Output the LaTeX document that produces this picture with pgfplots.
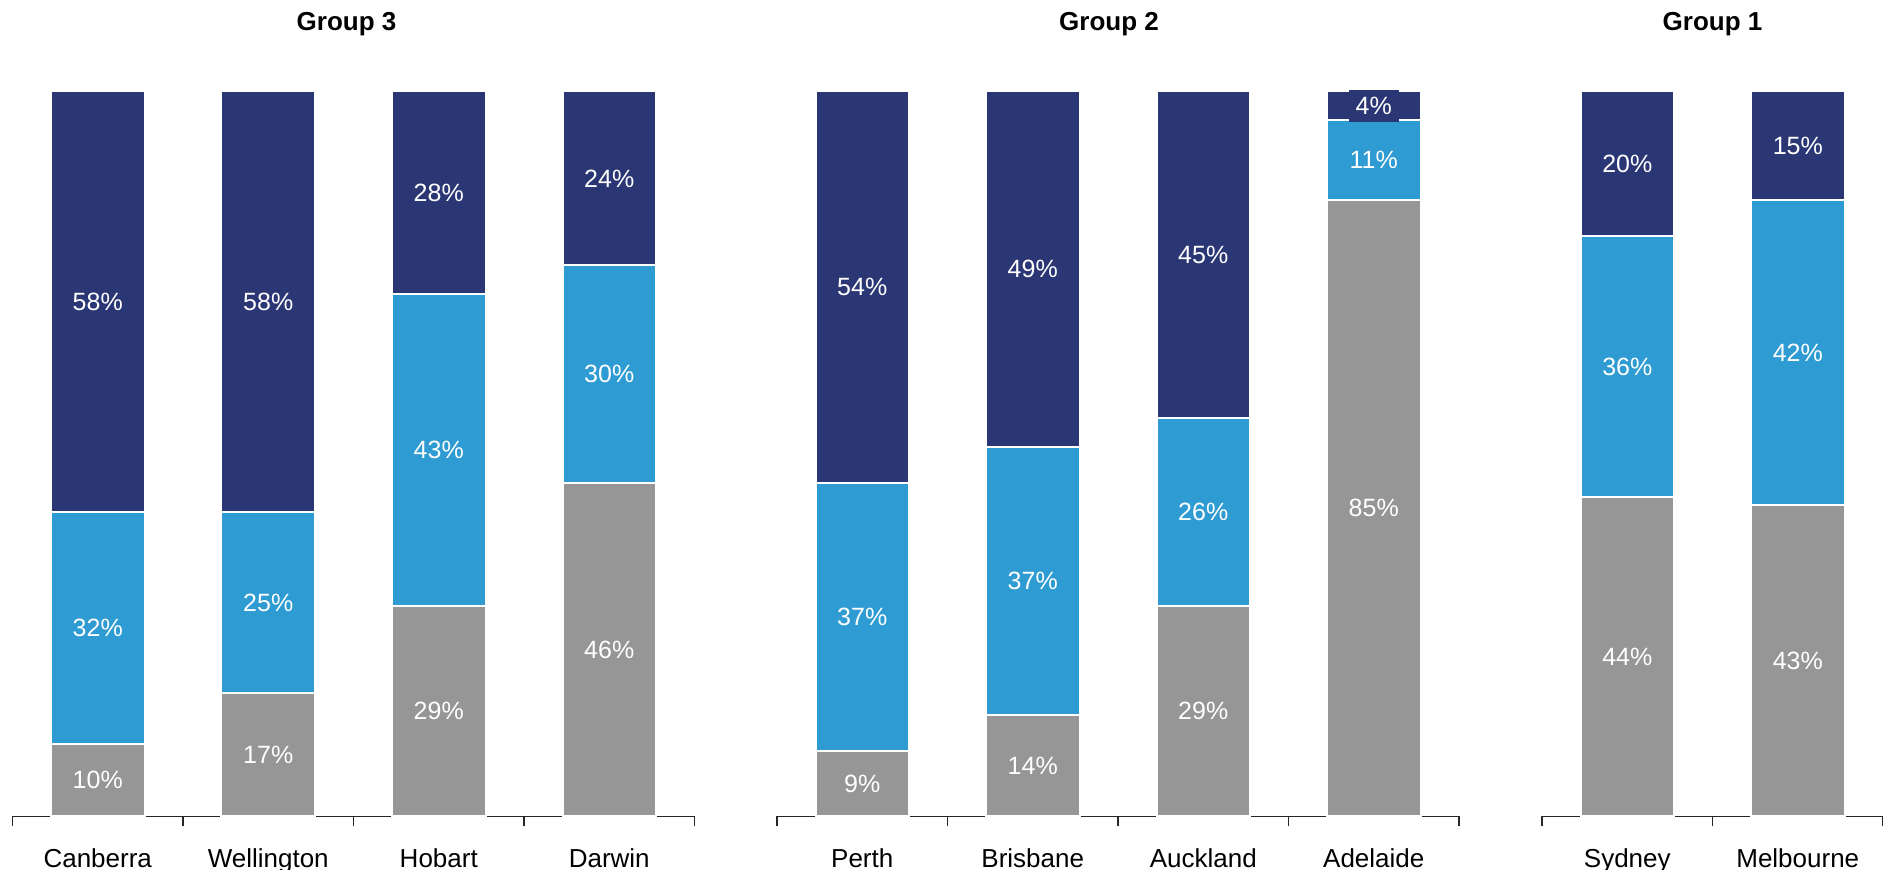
\documentclass[border=0pt]{standalone}
\usepackage{pgfplots}
\usepackage{pgfplotstable}
\pgfplotsset{compat=1.18}
\usepackage{fontspec}
\setmainfont{Liberation Sans}
\definecolor{cnavy}{RGB}{43,54,116}
\definecolor{cblue}{RGB}{46,155,210}
\definecolor{cgray}{RGB}{150,150,150}

\pgfplotstableread{
x g b n
0 10 32 58
1 17 25 58
2 29 43 28
3 46 30 24
}\groupthree
\pgfplotstableread{
x g b n
0 9 37 54
1 14 37 49
2 29 26 45
3 85 11 4
}\grouptwo
\pgfplotstableread{
x g b n
0 44 36 20
1 43 42 15
}\groupone

\pgfplotsset{
  seg/.style={
    fill=#1, draw=white, line width=1pt, point meta=explicit,
    nodes near coords={\pgfmathprintnumber{\pgfplotspointmeta}\%},
    every node near coord/.append style={anchor=center, fill=#1, text=white, inner sep=3.5pt, font=\fontsize{12.5}{14}\selectfont},
  },
  grp/.style={
    ybar stacked, bar width=46.75pt, bar shift=0pt, x=85.25pt, y=3.625pt,
    ymin=0, ymax=100, xmin=-0.5, clip=false,
    /pgf/number format/assume math mode=true,
    axis x line*=bottom, axis y line=none,
    axis line style={-, black!85, line width=0.8pt},
    major tick length=0pt, minor tick length=5pt, tick align=outside,
    minor tick style={black!85, line width=0.8pt},
    xticklabel style={font=\fontsize{13}{15}\selectfont, yshift=-12.7pt},
    title style={at={(0.5,1)}, anchor=base, yshift=24.25pt, font=\bfseries\fontsize{13}{15}\selectfont},
    anchor=south west,
  },
}

\begin{document}
\begin{tikzpicture}
\useasboundingbox (0,0) rectangle (941.5pt,435pt);
\begin{axis}[grp, at={(6.25pt,26.75pt)}, xmax=3.5, xtick={0,1,2,3},
  minor xtick={-0.5,0.5,1.5,2.5,3.5},
  xticklabels={Canberra,Wellington,Hobart,Darwin}, title={Group 3},
  title style={xshift=-3.5pt}]
\addplot[seg=cgray] table[x=x,y=g,meta=g]{\groupthree};
\addplot[seg=cblue] table[x=x,y=b,meta=b]{\groupthree};
\addplot[seg=cnavy] table[x=x,y=n,meta=n]{\groupthree};
\end{axis}
\begin{axis}[grp, at={(388.5pt,26.75pt)}, xmax=3.5, xtick={0,1,2,3},
  minor xtick={-0.5,0.5,1.5,2.5,3.5},
  xticklabels={Perth,Brisbane,Auckland,Adelaide}, title={Group 2},
  title style={xshift=-4.5pt}]
\addplot[seg=cgray] table[x=x,y=g,meta=g]{\grouptwo};
\addplot[seg=cblue] table[x=x,y=b,meta=b]{\grouptwo};
\addplot[seg=cnavy] table[x=x,y=n,meta=n]{\grouptwo};
\end{axis}
\begin{axis}[grp, at={(771pt,26.75pt)}, xmax=1.5, xtick={0,1},
  minor xtick={-0.5,0.5,1.5},
  xticklabels={Sydney,Melbourne}, title={Group 1}]
\addplot[seg=cgray] table[x=x,y=g,meta=g]{\groupone};
\addplot[seg=cblue] table[x=x,y=b,meta=b]{\groupone};
\addplot[seg=cnavy] table[x=x,y=n,meta=n]{\groupone};
\end{axis}
\end{tikzpicture}
\end{document}
